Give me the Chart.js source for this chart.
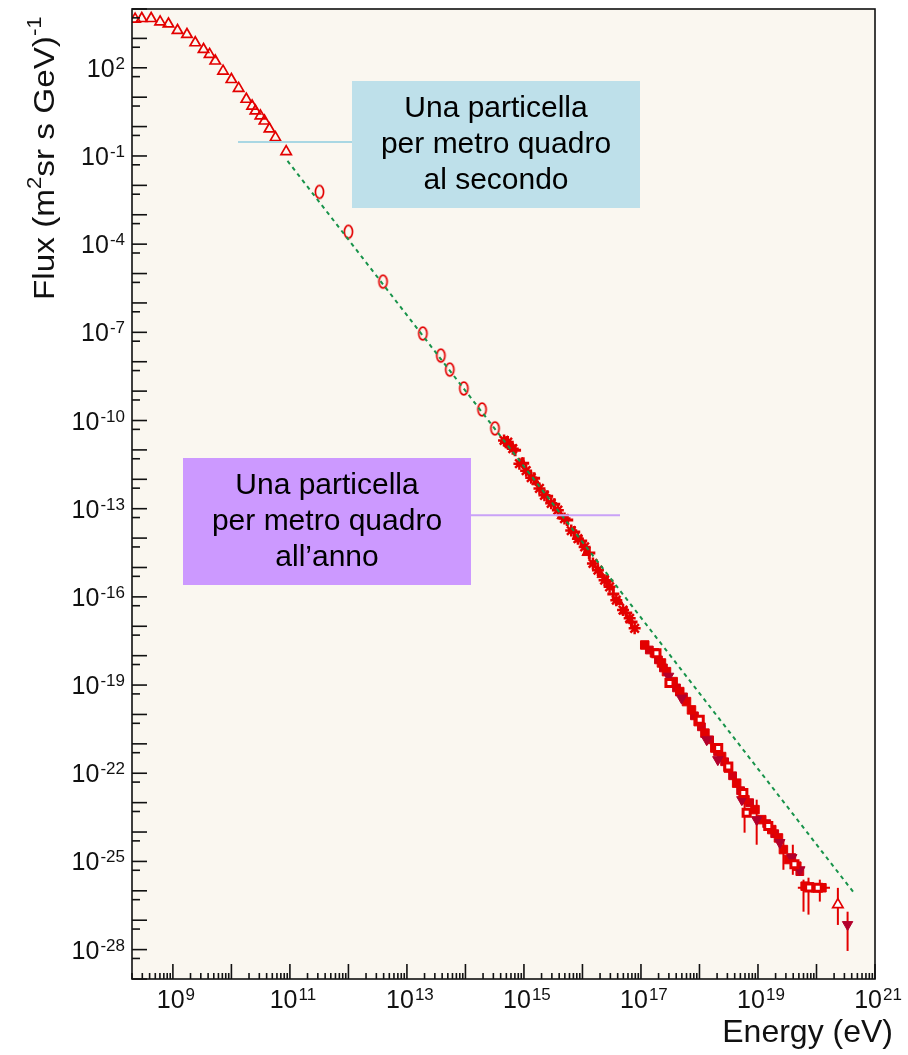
<!DOCTYPE html>
<html><head><meta charset="utf-8">
<script src="https://cdn.jsdelivr.net/npm/chart.js@4.4.1/dist/chart.umd.min.js"></script>
<style>html,body{margin:0;padding:0;background:#fff;}#wrap{width:908px;height:1055px;position:relative;}</style>
</head><body><div id="wrap"><canvas id="c" width="908" height="1055"></canvas></div>
<script>
// ---------- data (energy in eV, flux in (m^2 sr s GeV)^-1) ----------
const triE = [2.26e8, 2.94e8, 4.25e8, 6.05e8, 8.4e8, 1.2e9, 1.74e9, 2.41e9, 3.34e9, 4.24e9, 5.3e9, 7.2e9, 1.0e10, 1.33e10, 1.8e10, 2.26e10, 2.57e10, 3.13e10, 3.67e10, 4.47e10, 5.66e10, 8.63e10];
const triFlux = [4.5e3, 4.75e3, 4.75e3, 3.65e3, 3.1e3, 1.86e3, 1.36e3, 7.1e2, 4.2e2, 2.85e2, 1.7e2, 77, 40, 20, 8.5, 5.0, 3.4, 2.3, 1.55, 0.83, 0.42, 0.14];

const ellE = [3.2e11, 1.0e12, 3.9e12, 1.87e13, 3.8e13, 5.4e13, 9.4e13, 1.92e14, 3.2e14];
const ellFlux = [6.0e-3, 2.64e-4, 5.3e-6, 9.1e-8, 1.62e-8, 5.4e-9, 1.23e-9, 2.38e-10, 5.4e-11];

const kneeE = [4.57e14, 5.29e14, 6.44e14, 8.36e14, 1.09e15, 1.33e15, 1.84e15, 2.24e15, 2.92e15, 3.80e15, 4.93e15, 6.43e15, 8.37e15, 1.09e16, 1.51e16, 1.84e16, 2.39e16, 2.91e16, 3.79e16, 4.94e16, 6.41e16, 7.80e16];
const kneeFlux = [2.11e-11, 1.85e-11, 1.10e-11, 3.41e-12, 1.97e-12, 1.14e-12, 4.9e-13, 2.86e-13, 1.53e-13, 8.9e-14, 4.6e-14, 1.81e-14, 9.5e-15, 5.0e-15, 1.37e-15, 8.1e-16, 3.7e-16, 2.2e-16, 7.7e-17, 3.56e-17, 1.86e-17, 8.5e-18];

const knee2E = [5.8e14, 9.3e14, 1.61e15, 4.33e15, 1.16e16, 2.10e16, 4.27e16];
const knee2Flux = [1.41e-11, 3.8e-12, 7.9e-13, 5.5e-14, 3.1e-15, 5.5e-16, 6.6e-17];

const knee3E = [4.95e14, 7.05e14, 9.7e14, 1.49e15, 2.49e15, 3.29e15, 5.49e15, 7.23e15, 9.5e15, 1.31e16, 2.66e16, 3.37e16, 5.6e16, 6.9e16];
const knee3Flux = [1.82e-11, 9.8e-12, 3.5e-12, 1.09e-12, 2.67e-13, 1.43e-13, 4.1e-14, 1.61e-14, 7.9e-15, 3.1e-15, 3.5e-16, 1.26e-16, 2.85e-17, 1.41e-17];

const hiE = [1.16e17, 1.70e17, 2.24e17, 2.73e17, 3.55e17, 4.60e17, 6.0e17, 7.3e17, 9.5e17, 1.24e18, 1.83e18, 2.39e18, 3.11e18, 4.32e18, 5.99e18, 8.89e18, 1.16e19, 1.72e19, 2.24e19, 2.72e19, 3.32e19, 4.61e19, 6.39e19, 9.48e19, 1.24e20];
const hiFlux = [2.31e-18, 1.24e-18, 5.65e-19, 2.86e-19, 1.31e-19, 6.0e-20, 2.74e-20, 1.43e-20, 5.7e-21, 2.32e-21, 7.2e-22, 3.7e-22, 1.50e-22, 4.6e-23, 1.26e-23, 5.8e-24, 2.64e-24, 1.21e-24, 6.3e-25, 2.53e-25, 1.16e-25, 6.9e-26, 1.44e-26, 1.27e-26, 1.27e-26];

const hi2E = [1.39e17, 1.99e17, 2.42e17, 4.05e17, 5.33e17, 8.2e17, 1.08e18, 1.49e18, 2.04e18, 2.69e18, 3.68e18, 5.05e18, 7.2e18, 1.41e19, 1.93e19, 3.78e19, 5.19e19, 7.7e19];
const hi2Flux = [1.56e-18, 7.2e-19, 3.83e-19, 8.0e-20, 3.96e-20, 8.97e-21, 3.8e-21, 1.37e-21, 5.4e-22, 2.46e-22, 8.2e-23, 2.55e-23, 9.97e-24, 1.93e-24, 8.8e-25, 1.35e-25, 4.5e-26, 1.4e-26];

const openE = [1.84e17, 3.07e17, 1.01e18, 2.09e18, 3.11e18, 5.62e18, 6.4e18, 1.5e19, 4.2e19, 7.5e19, 1.05e20];
const openFlux = [1.2e-18, 1.18e-19, 6.6e-21, 7.2e-22, 1.7e-22, 2.14e-23, 4.5e-24, 1.6e-24, 8e-26, 1.3e-26, 1.27e-26];

const darkE = [2.97e17, 4.95e17, 1.33e18, 2.06e18, 5.3e18, 9.5e18, 2.36e19, 3.78e19, 5.19e19, 3.4e20];
const darkFlux = [2.0e-19, 3.6e-20, 1.38e-21, 2.9e-22, 1.26e-23, 2.64e-24, 4.4e-25, 1.35e-25, 5.2e-26, 7.1e-28];

const topE = [2.32e20];
const topFlux = [3.4e-27];

const errE = [5.9e18, 9.5e18, 2.72e19, 3.94e19, 6.0e19, 7.3e19, 1.14e20, 2.32e20, 3.4e20];
const errHigh = [1.26e-23, 1.26e-23, 5.5e-25, 3.7e-25, 2.4e-26, 2.8e-26, 2.4e-26, 1.26e-26, 1.95e-27];
const errLow = [9.5e-25, 3.7e-25, 5.2e-26, 3.5e-26, 1.95e-27, 1.55e-27, 4.3e-27, 6.9e-28, 9.0e-29];

const hErrFlux = [1.27e-26];
const hErrLow = [4.8e19];
const hErrHigh = [1.7e20];

const fitE = [9.1e10, 4.59e20];
const fitFlux = [6.8e-2, 7.5e-27];

const perSecondFlux = 0.3;   // "una particella per metro quadro al secondo"
const perYearFlux = 6.0e-14; // "una particella per metro quadro all'anno"

const xTickExps = [9, 11, 13, 15, 17, 19, 21];
const yTickExps = [2, -1, -4, -7, -10, -13, -16, -19, -22, -25, -28];
const xTitle = 'Energy (eV)';
const boxSecond = ['Una particella', 'per metro quadro', 'al secondo'];
const boxYear = ['Una particella', 'per metro quadro', 'all\u2019anno'];

// ---------- styling ----------
const RED = '#e30000';
const DARK = '#b3002c';
const FONT = '"Liberation Sans", Arial, Helvetica, sans-serif';
const pts = (xs, ys) => xs.map((x, i) => ({x: x, y: ys[i]}));

function ellipseMarker() {
  const c = document.createElement('canvas');
  c.width = 13; c.height = 17;
  const g = c.getContext('2d');
  g.strokeStyle = RED; g.lineWidth = 1.7;
  g.beginPath(); g.ellipse(6.5, 8.5, 4.1, 6.4, 0, 0, Math.PI * 2); g.stroke();
  return c;
}

function powLabel(ctx, exp, x, baseY, align) {
  const base = '10', sup = String(exp);
  ctx.font = '25px ' + FONT; const wb = ctx.measureText(base).width;
  ctx.font = '17px ' + FONT; const ws = ctx.measureText(sup).width;
  const total = wb + 1 + ws;
  const x0 = align === 'right' ? x - total : x - total / 2;
  ctx.textAlign = 'left'; ctx.textBaseline = 'alphabetic';
  ctx.font = '25px ' + FONT; ctx.fillText(base, x0, baseY);
  ctx.font = '17px ' + FONT; ctx.fillText(sup, x0 + wb + 1, baseY - 8);
}

const decor = {
  id: 'decor',
  beforeDraw(chart) {
    const {ctx, chartArea: a} = chart;
    ctx.save();
    ctx.fillStyle = '#ffffff'; ctx.fillRect(0, 0, chart.width, chart.height);
    ctx.fillStyle = '#FAF7F0'; ctx.fillRect(a.left, a.top, a.right - a.left, a.bottom - a.top);
    ctx.restore();
  },
  beforeDatasetsDraw(chart) {
    const {ctx} = chart; const xs = chart.scales.x, ys = chart.scales.y;
    ctx.save();
    ctx.strokeStyle = RED; ctx.lineWidth = 2;
    errE.forEach((e, i) => {
      const px = xs.getPixelForValue(e);
      ctx.beginPath();
      ctx.moveTo(px, ys.getPixelForValue(errHigh[i]));
      ctx.lineTo(px, Math.min(ys.getPixelForValue(errLow[i]), chart.chartArea.bottom));
      ctx.stroke();
    });
    hErrFlux.forEach((f, i) => {
      const py = ys.getPixelForValue(f);
      ctx.beginPath();
      ctx.moveTo(xs.getPixelForValue(hErrLow[i]), py);
      ctx.lineTo(xs.getPixelForValue(hErrHigh[i]), py);
      ctx.stroke();
    });
    ctx.restore();
  },
  afterDatasetsDraw(chart) {
    const {ctx} = chart; const ys = chart.scales.y;
    ctx.save();
    const y1 = ys.getPixelForValue(perSecondFlux);
    ctx.strokeStyle = '#A9D7E3'; ctx.lineWidth = 2;
    ctx.beginPath(); ctx.moveTo(238, y1); ctx.lineTo(352, y1); ctx.stroke();
    const y2 = ys.getPixelForValue(perYearFlux);
    ctx.strokeStyle = '#C9A2F7';
    ctx.beginPath(); ctx.moveTo(470, y2); ctx.lineTo(620, y2); ctx.stroke();
    const drawBox = (x, y, w, h, col, lines) => {
      ctx.fillStyle = col; ctx.fillRect(x, y, w, h);
      ctx.fillStyle = '#000'; ctx.font = '30px ' + FONT;
      ctx.textAlign = 'center'; ctx.textBaseline = 'alphabetic';
      lines.forEach((t, i) => ctx.fillText(t, x + w / 2, y + 36 + i * 36));
    };
    drawBox(352, 81, 288, 127, '#BEE0EA', boxSecond);
    drawBox(183, 458, 288, 127, '#CC99FF', boxYear);
    ctx.restore();
  },
  afterDraw(chart) {
    const {ctx, chartArea: a} = chart; const xs = chart.scales.x, ys = chart.scales.y;
    ctx.save();
    ctx.strokeStyle = '#111'; ctx.lineWidth = 1.6;
    const seg = (x1, y1, x2, y2) => { ctx.beginPath(); ctx.moveTo(x1, y1); ctx.lineTo(x2, y2); ctx.stroke(); };
    for (let e = -29; e <= 4; e++) {
      const p = ys.getPixelForValue(Math.pow(10, e));
      if (p >= a.top - 0.5 && p <= a.bottom + 0.5) seg(a.left, p, a.left + 15, p);
      const q = ys.getPixelForValue(5 * Math.pow(10, e - 1));
      if (q >= a.top && q <= a.bottom) seg(a.left, q, a.left + 8, q);
    }
    for (let e = 8; e <= 21; e++) {
      for (let k = 1; k <= 9; k++) {
        const p = xs.getPixelForValue(k * Math.pow(10, e));
        if (p < a.left - 0.5 || p > a.right + 0.5) continue;
        seg(p, a.bottom, p, a.bottom - (k === 1 ? 15 : 6));
      }
    }
    ctx.strokeRect(a.left, a.top, a.right - a.left, a.bottom - a.top);
    ctx.fillStyle = '#111';
    yTickExps.forEach(e => powLabel(ctx, e, 125, ys.getPixelForValue(Math.pow(10, e)) + 9, 'right'));
    xTickExps.forEach(e => powLabel(ctx, e, xs.getPixelForValue(Math.pow(10, e)) + 3, 1008, 'center'));
    ctx.font = '32px ' + FONT; ctx.textAlign = 'right'; ctx.textBaseline = 'alphabetic';
    ctx.fillText(xTitle, 893, 1042);
    ctx.translate(54, 300); ctx.rotate(-Math.PI / 2); ctx.scale(1.11, 1);
    ctx.textAlign = 'left';
    let cx = 0;
    const part = (t, size, dy) => { ctx.font = size + 'px ' + FONT; ctx.fillText(t, cx, dy); cx += ctx.measureText(t).width; };
    part('Flux (m', 30, 0); part('2', 20, -13); part('sr s GeV)', 30, 0); part('-1', 20, -13);
    ctx.restore();
  }
};

new Chart(document.getElementById('c'), {
  type: 'scatter',
  data: {
    datasets: [
      {label: 'fit', data: pts(fitE, fitFlux), showLine: true, borderColor: '#17934a', borderWidth: 2, borderDash: [4, 4], pointRadius: 0, order: 0},
      {label: 'low', data: pts(triE, triFlux), pointStyle: 'triangle', pointRadius: 6, borderColor: RED, backgroundColor: 'rgba(0,0,0,0)', borderWidth: 1.7, order: 1},
      {label: 'mid', data: pts(ellE, ellFlux), pointStyle: ellipseMarker(), order: 1},
      {label: 'knee', data: pts(kneeE, kneeFlux), pointStyle: 'star', pointRadius: 6, borderColor: RED, backgroundColor: RED, borderWidth: 2.5, order: 2},
      {label: 'knee2', data: pts(knee2E, knee2Flux), pointStyle: 'triangle', pointRadius: 5, borderColor: RED, backgroundColor: RED, borderWidth: 1, order: 2},
      {label: 'knee3', data: pts(knee3E, knee3Flux), pointStyle: 'cross', pointRadius: 6, borderColor: RED, borderWidth: 3, order: 2},
      {label: 'hi', data: pts(hiE, hiFlux), pointStyle: 'rect', pointRadius: 6, borderColor: RED, backgroundColor: RED, borderWidth: 1, order: 3},
      {label: 'hi2', data: pts(hi2E, hi2Flux), pointStyle: 'rect', pointRadius: 5.5, borderColor: '#d40010', backgroundColor: '#d40010', borderWidth: 1, order: 3},
      {label: 'open', data: pts(openE, openFlux), pointStyle: 'rect', pointRadius: 5, borderColor: RED, backgroundColor: '#ffffff', borderWidth: 3, order: 2},
      {label: 'dark', data: pts(darkE, darkFlux), pointStyle: 'triangle', rotation: 180, pointRadius: 6, borderColor: DARK, backgroundColor: DARK, borderWidth: 1, order: 2},
      {label: 'top', data: pts(topE, topFlux), pointStyle: 'triangle', pointRadius: 6, borderColor: RED, backgroundColor: '#ffffff', borderWidth: 1.7, order: 1}
    ]
  },
  options: {
    responsive: false, devicePixelRatio: 1, animation: false,
    layout: {padding: {left: 132, right: 33, top: 7, bottom: 76}},
    plugins: {legend: {display: false}, tooltip: {enabled: false}},
    scales: {
      x: {type: 'logarithmic', min: 2e8, max: 1e21, display: false},
      y: {type: 'logarithmic', min: 1e-29, max: 1e4, display: false}
    }
  },
  plugins: [decor]
});
</script>
</body></html>
